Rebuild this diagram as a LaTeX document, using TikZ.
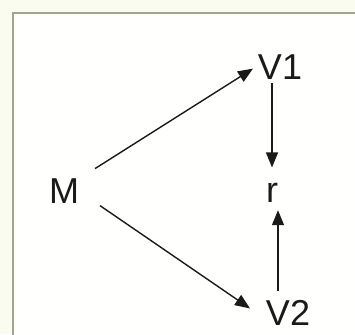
\documentclass[tikz,border=0pt]{standalone}
\usepackage{fontspec}
\setmainfont{Liberation Sans}
\usepackage{xcolor}
\usetikzlibrary{arrows.meta,calc}
\definecolor{cPage}{HTML}{FBFCF0}
\definecolor{cPanel}{HTML}{FFFFFD}
\definecolor{cFrame}{HTML}{9EA68E}
\definecolor{cInk}{HTML}{1A1A1A}
\tikzset{
  fig/var/.style  ={inner sep=0pt, anchor=base, text=cInk,
                    font=\fontsize{36}{40}\selectfont},
  fig/arr/.style  ={-{Triangle[length=15pt, width=12pt]}, line width=1.4pt, cInk},
  fig/frame/.style={draw=cFrame, line width=2pt, fill=cPanel}
}
\begin{document}
\begin{tikzpicture}[x=1pt, y=-1pt]
    % page and panel
    \fill[cPage] (0,0) rectangle (355,334);
    \useasboundingbox (0,0) rectangle (355,334);
    \clip (0,0) rectangle (355,334);
    \draw[fig/frame] (13,13) rectangle (370,350);
    % variables
    \node[fig/var] (m)  at (64,203)  {M};
    \node[fig/var] (v1) at (280,80)  {V1};
    \node[fig/var] (r)  at (272,202) {r};
    \node[fig/var] (v2) at (288,325) {V2};
    % M to the two V nodes
    \draw[fig/arr] ([shift={(31,-22)}]m.center) -- ([shift={(-27,1)}]v1.center);
    \draw[fig/arr] ([shift={(36,15)}]m.center)  -- ([shift={(-38,-4)}]v2.center);
    % both V nodes into r
    \draw[fig/arr, shorten <=3pt, shorten >=15pt] (v1.south -| r.north) -- (r.north);
    \draw[fig/arr, shorten <=9pt, shorten >=8pt]
         ([xshift=6pt]r.south |- v2.north) -- ([xshift=6pt]r.south);
\end{tikzpicture}
\end{document}
